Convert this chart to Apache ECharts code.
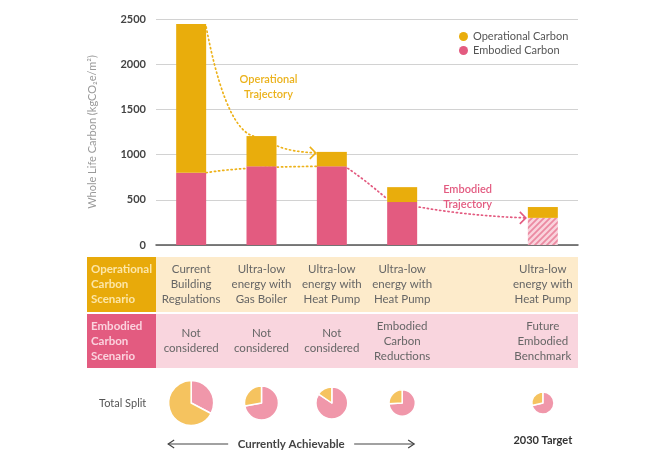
<!DOCTYPE html>
<html><head><meta charset="utf-8">
<script src="https://cdn.jsdelivr.net/npm/echarts@6/dist/echarts.min.js"></script>
<style>html,body{margin:0;padding:0;background:#fff}#c{width:666px;height:466px}</style>
</head><body><div id="c"></div>
<script>
// ---- data ----
const categories = ['Current Building Regulations', 'Ultra-low energy with Gas Boiler', 'Ultra-low energy with Heat Pump', 'Embodied Carbon Reductions', '', '2030 Target'];
const embodied = [800, 870, 870, 475, null, 300];
const operational = [1645, 335, 160, 165, null, 120];
const yTicks = [0, 500, 1000, 1500, 2000, 2500];
const opScenario = ['Current\nBuilding\nRegulations', 'Ultra-low\nenergy with\nGas Boiler', 'Ultra-low\nenergy with\nHeat Pump', 'Ultra-low\nenergy with\nHeat Pump', '', 'Ultra-low\nenergy with\nHeat Pump'];
const embScenario = ['Not\nconsidered', 'Not\nconsidered', 'Not\nconsidered', 'Embodied\nCarbon\nReductions', '', 'Future\nEmbodied\nBenchmark'];
const futureIndex = 5;

// ---- styles ----
const FONT = 'Lato, "Noto Sans", sans-serif';
const YEL = '#E9AD0C', PINK = '#E35B80';
const PIE_YEL = '#F5C35F', PIE_PINK = '#F097AA';

function hatch() {
  const s = 6, c = document.createElement('canvas');
  c.width = s; c.height = s;
  const g = c.getContext('2d');
  g.fillStyle = '#F9D3DC'; g.fillRect(0, 0, s, s);
  g.strokeStyle = '#EB8AA2'; g.lineWidth = 1.8;
  g.beginPath();
  g.moveTo(-1, 1); g.lineTo(1, -1);
  g.moveTo(0, s); g.lineTo(s, 0);
  g.moveTo(s - 1, s + 1); g.lineTo(s + 1, s - 1);
  g.stroke();
  return { image: c, repeat: 'repeat' };
}

const chart = echarts.init(document.getElementById('c'), null, { renderer: 'canvas' });

const barSeries = [
  {
    type: 'bar', name: 'Embodied Carbon', stack: 'total', barWidth: 30, z: 3,
    itemStyle: { color: PINK },
    data: embodied.map((v, i) => v == null ? '-' : (i === futureIndex ? { value: v, itemStyle: { color: hatch() } } : v))
  },
  {
    type: 'bar', name: 'Operational Carbon', stack: 'total', barWidth: 30, z: 3,
    itemStyle: { color: YEL },
    data: operational.map(v => v == null ? '-' : v)
  }
];

const base = {
  animation: false,
  textStyle: { fontFamily: FONT },
  grid: { left: 156, right: 88, top: 19, bottom: 221 },
  legend: {
    orient: 'vertical', left: 454, top: 26, icon: 'circle', itemWidth: 9, itemHeight: 9, itemGap: 3,
    data: ['Operational Carbon', 'Embodied Carbon'],
    textStyle: { color: '#555', fontSize: 11, fontFamily: FONT }
  },
  xAxis: {
    type: 'category', data: categories,
    axisLine: { lineStyle: { color: '#555', width: 1.5 } },
    axisTick: { show: false }, axisLabel: { show: false }, splitLine: { show: false }
  },
  yAxis: {
    type: 'value', min: yTicks[0], max: yTicks[yTicks.length - 1], interval: yTicks[1] - yTicks[0],
    axisLine: { show: false }, axisTick: { show: false },
    splitLine: { lineStyle: { color: '#d2d2d2', width: 1 } },
    axisLabel: { color: '#444', fontWeight: 'bold', fontSize: 11, margin: 10, fontFamily: FONT, formatter: v => String(v) },
    name: 'Whole Life Carbon (kgCO₂e/m²)', nameLocation: 'middle', nameGap: 58,
    nameTextStyle: { color: '#9a9a9a', fontSize: 11, fontFamily: FONT }
  },
  series: barSeries
};
chart.setOption(base);

// ---- pixel helpers from the axes ----
const P = (i, v) => chart.convertToPixel({ gridIndex: 0 }, [i, v]);
const y0 = P(0, 0)[1];
const step = P(1, 0)[0] - P(0, 0)[0];
const xLeft = P(0, 0)[0] - step / 2;
const xRight = P(categories.length - 1, 0)[0] + step / 2;
const cx = i => P(i, 0)[0];
const total = i => embodied[i] + operational[i];
const half = 15;

const G = [];
// table
const tblLeft = xLeft - 69, tblTop = y0 + 12, rowH = 55;
G.push({ type: 'rect', shape: { x: tblLeft, y: tblTop, width: xLeft - tblLeft, height: rowH }, style: { fill: '#E8AA0A' } });
G.push({ type: 'rect', shape: { x: xLeft, y: tblTop, width: xRight - xLeft, height: rowH }, style: { fill: '#FDEBCB' } });
G.push({ type: 'rect', shape: { x: tblLeft, y: tblTop + rowH + 2, width: xLeft - tblLeft, height: rowH - 1 }, style: { fill: '#E35B80' } });
G.push({ type: 'rect', shape: { x: xLeft, y: tblTop + rowH + 2, width: xRight - xLeft, height: rowH - 1 }, style: { fill: '#F9D5DE' } });
G.push({ type: 'text', x: tblLeft + 4, y: tblTop + rowH / 2, style: { text: 'Operational\nCarbon\nScenario', fill: '#FCE6A8', font: 'bold 11.5px ' + FONT, lineHeight: 15, verticalAlign: 'middle', align: 'left' } });
G.push({ type: 'text', x: tblLeft + 4, y: tblTop + rowH + 2 + (rowH - 1) / 2, style: { text: 'Embodied\nCarbon\nScenario', fill: '#FBD3DE', font: 'bold 11.5px ' + FONT, lineHeight: 15, verticalAlign: 'middle', align: 'left' } });
categories.forEach((c, i) => {
  if (opScenario[i]) G.push({ type: 'text', x: cx(i), y: tblTop + rowH / 2, style: { text: opScenario[i], fill: '#666', font: '11.5px ' + FONT, lineHeight: 15, align: 'center', verticalAlign: 'middle' } });
  if (embScenario[i]) G.push({ type: 'text', x: cx(i), y: tblTop + rowH + 2 + (rowH - 1) / 2, style: { text: embScenario[i], fill: '#666', font: '11.5px ' + FONT, lineHeight: 15, align: 'center', verticalAlign: 'middle' } });
});

// bottom labels
const pieY = y0 + 158;
G.push({ type: 'text', x: tblLeft + 12, y: pieY, style: { text: 'Total Split', fill: '#555', font: '11px ' + FONT, verticalAlign: 'middle' } });
const arrY = y0 + 199;
const aL = cx(0) - 23, aR = cx(3) + 12, aMid = (aL + aR) / 2;
const arrStyle = { stroke: '#444', lineWidth: 1.2, fill: null };
G.push({ type: 'text', x: aMid, y: arrY, style: { text: 'Currently Achievable', fill: '#444', font: 'bold 11.5px ' + FONT, align: 'center', verticalAlign: 'middle' } });
G.push({ type: 'line', shape: { x1: aL, y1: arrY, x2: aMid - 63, y2: arrY }, style: arrStyle });
G.push({ type: 'polyline', shape: { points: [[aL + 6, arrY - 4], [aL, arrY], [aL + 6, arrY + 4]] }, style: arrStyle });
G.push({ type: 'line', shape: { x1: aMid + 63, y1: arrY, x2: aR, y2: arrY }, style: arrStyle });
G.push({ type: 'polyline', shape: { points: [[aR - 6, arrY - 4], [aR, arrY], [aR - 6, arrY + 4]] }, style: arrStyle });
G.push({ type: 'text', x: cx(futureIndex), y: arrY - 4, style: { text: '2030 Target', fill: '#333', font: 'bold 11px ' + FONT, align: 'center', verticalAlign: 'middle' } });

// trajectories
const dotY = { stroke: '#EDB21A', lineWidth: 1.7, lineDash: [1.2, 3], lineCap: 'round', fill: null };
const dotP = { stroke: '#E35B80', lineWidth: 1.7, lineDash: [1.2, 3], lineCap: 'round', fill: null };
const chev = (x, y, col) => ({ type: 'polyline', z: 1, shape: { points: [[x - 6, y - 6], [x, y], [x - 6, y + 6]] }, style: { stroke: col, lineWidth: 1.6, fill: null } });
const quad = (s, c, e, st) => ({ type: 'bezierCurve', z: 1, shape: { x1: s[0], y1: s[1], cpx1: c[0], cpy1: c[1], x2: e[0], y2: e[1] }, style: st });
{
  const s = [cx(0) + half, P(0, total(0))[1] + 3], e = [cx(1) - 8, P(1, total(1))[1]];
  G.push({ type: 'bezierCurve', z: 1, shape: { x1: s[0], y1: s[1], cpx1: s[0] + 10, cpy1: s[1] + 52, cpx2: s[0] + 25, cpy2: e[1] - 6, x2: e[0], y2: e[1] }, style: dotY });
  const s2 = [cx(1) + half + 1, P(1, total(1))[1] + 10], e2 = [cx(2) - half - 1, P(2, total(2))[1] + 1];
  G.push(quad(s2, [s2[0] + 14, e2[1] - 1], e2, dotY));
  G.push(chev(e2[0], e2[1], '#EDB21A'));
  const s3 = [cx(0) + half, P(0, embodied[0])[1]], e3 = [cx(2) - half, P(2, embodied[2])[1]];
  G.push(quad(s3, [s3[0] + 35, e3[1] + 0.5], e3, dotY));
  const s4 = [cx(2) + half + 1, P(2, embodied[2])[1] + 2], e4 = [cx(3) - half - 1, P(3, embodied[3])[1] - 4];
  G.push(quad(s4, [s4[0] + 15, s4[1] + 10], e4, dotP));
  const s5 = [cx(3) + half + 2, P(3, embodied[3])[1] + 5], e5 = [cx(futureIndex) - half - 2, P(futureIndex, embodied[futureIndex])[1]];
  G.push(quad(s5, [(s5[0] + e5[0]) / 2 - 3, e5[1] - 2], e5, dotP));
  G.push(chev(e5[0], e5[1], '#E35B80'));
  G.push({ type: 'text', x: cx(1) + 7, y: P(1, 2000)[1] + 23, style: { text: 'Operational\nTrajectory', fill: '#EBB21C', font: '600 11px ' + FONT, lineHeight: 15, align: 'center', verticalAlign: 'middle' } });
  G.push({ type: 'text', x: cx(3) + 41, y: P(3, 500)[1] - 3, style: { text: 'Embodied\nTrajectory', fill: '#E35B80', font: '600 11px ' + FONT, lineHeight: 15, align: 'left', verticalAlign: 'middle' } });
}

// pies
const maxTotal = Math.max(...categories.map((c, i) => embodied[i] == null ? 0 : total(i)));
const pies = [];
categories.forEach((c, i) => {
  if (embodied[i] == null) return;
  pies.push({
    type: 'pie', silent: true, center: [cx(i), pieY], radius: 22.5 * Math.pow(total(i) / maxTotal, 0.4),
    startAngle: 90, clockwise: true, label: { show: false }, labelLine: { show: false },
    emphasis: { disabled: true },
    itemStyle: { borderColor: '#fff', borderWidth: 1.5 },
    data: [
      { name: 'Embodied Carbon', value: embodied[i], itemStyle: { color: PIE_PINK } },
      { name: 'Operational Carbon', value: operational[i], itemStyle: { color: PIE_YEL } }
    ]
  });
});

chart.setOption({ graphic: G, series: barSeries.concat(pies) });
</script></body></html>
